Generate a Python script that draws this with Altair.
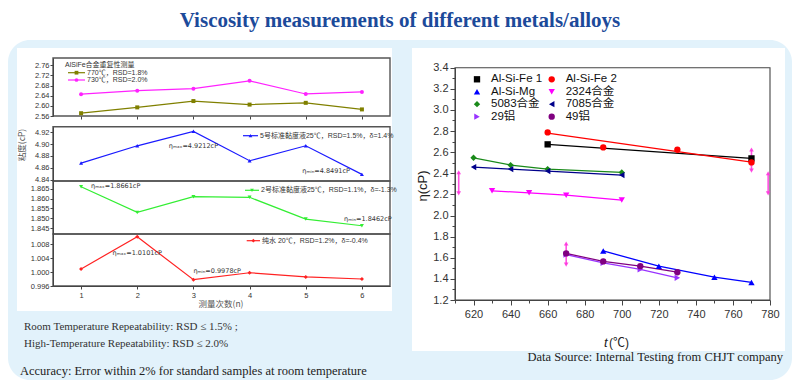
import altair as alt
import pandas as pd

W, H = 784, 372

# ---------------- left: repeatability (measurement number) ----------------
runs = [1, 2, 3, 4, 5, 6]
alsife_770 = [2.571, 2.594, 2.619, 2.605, 2.612, 2.586]
alsife_730 = [2.646, 2.660, 2.668, 2.699, 2.647, 2.655]
std5_25c = [4.868, 4.897, 4.9212, 4.872, 4.897, 4.8491]
std2_25c = [1.8661, 1.853, 1.861, 1.8607, 1.8496, 1.8462]
water_20c = [1.0009, 1.0101, 0.9978, 0.9998, 0.9986, 0.9980]

p1_ticks = [2.56, 2.60, 2.64, 2.68, 2.72, 2.76]
p2_ticks = [4.84, 4.86, 4.88, 4.90, 4.92]
p3_ticks = [1.845, 1.850, 1.855, 1.860, 1.865]
p4_ticks = [0.996, 1.000, 1.004, 1.008]

legend_p1_title = "AlSiFe合金重复性测量"
legend_770 = "770℃，RSD=1.8%"
legend_730 = "730℃，RSD=2.0%"
legend_std5 = "5号标准黏度液25℃，RSD=1.5%，δ=1.4%"
legend_std2 = "2号标准黏度液25℃，RSD=1.1%，δ=-1.3%"
legend_water = "纯水 20℃，RSD=1.2%，δ=-0.4%"

# ---------------- right: viscosity vs temperature ----------------
series_names = ["Al-Si-Fe 1", "Al-Si-Fe 2", "Al-Si-Mg", "2324合金",
                "5083合金", "7085合金", "29铝", "49铝"]
fe1_t = [660, 770]
fe1_v = [2.674, 2.541]
fe2_t = [660, 690, 730, 770]
fe2_v = [2.787, 2.645, 2.623, 2.503]
fe2_fit_t = [660, 770]
fe2_fit_v = [2.780, 2.505]
mg_t = [690, 720, 750, 770]
mg_v = [1.665, 1.520, 1.416, 1.366]
a2324_t = [630, 650, 670, 700]
a2324_v = [2.234, 2.215, 2.193, 2.146]
a5083_t = [620, 640, 660, 700]
a5083_v = [2.547, 2.478, 2.440, 2.408]
a7085_t = [620, 640, 660, 700]
a7085_v = [2.459, 2.440, 2.421, 2.383]
al29_t = [670, 690, 710, 730]
al29_v = [1.630, 1.552, 1.490, 1.410]
al49_t = [670, 690, 710, 730]
al49_v = [1.641, 1.565, 1.520, 1.463]
err_t = [612, 670, 770, 779]
err_v = [2.310, 1.635, 2.525, 2.305]
err_half = [0.10, 0.10, 0.10, 0.095]

temp_ticks = [620, 640, 660, 680, 700, 720, 740, 760, 780]
temp_minor = [610, 630, 650, 670, 690, 710, 730, 750, 770]
visc_ticks = [1.2, 1.4, 1.6, 1.8, 2.0, 2.2, 2.4, 2.6, 2.8, 3.0, 3.2, 3.4]
visc_minor = [1.3, 1.5, 1.7, 1.9, 2.1, 2.3, 2.5, 2.7, 2.9, 3.1, 3.3]

# ---------------- styles ----------------
series_colors = ["#000000", "#ff0000", "#0000ff", "#ff00ff",
                 "#1a8a1a", "#00008b", "#9933ff", "#800080"]
series_shapes = ["square", "circle", "triangle-up", "triangle-down",
                 "diamond", "triangle-left", "triangle-right", "circle"]
AX = "#444444"
SANS = "Liberation Sans, Noto Sans CJK SC"
CJK = "Noto Sans CJK SC"
SERIF = "Liberation Serif"


def txt(text, x, y, size=11, color="#222222", font=SERIF, align="left",
        weight="normal", angle=0, style="normal"):
    d = pd.DataFrame({"t": [text]})
    return alt.Chart(d).mark_text(
        align=align, baseline="middle", fontSize=size, color=color, font=font,
        fontWeight=weight, angle=angle, fontStyle=style
    ).encode(text="t:N", x=alt.value(x), y=alt.value(y))


def box(x1, y1, x2, y2, fill="#ffffff", fill_opacity=1.0, stroke="#ffffff",
        stroke_width=0.0, radius=0):
    return alt.Chart(pd.DataFrame({"k": [0]})).mark_rect(
        fill=fill, fillOpacity=fill_opacity, stroke=stroke,
        strokeWidth=stroke_width, cornerRadius=radius
    ).encode(x=alt.value(x1), x2=alt.value(x2), y=alt.value(y1), y2=alt.value(y2))


def leg_entry(x1, x2, y, color, shape, text):
    d = pd.DataFrame({"t": [text]})
    r = alt.Chart(d).mark_rule(color=color, strokeWidth=1.2).encode(
        x=alt.value(x1), x2=alt.value(x2), y=alt.value(y))
    p = alt.Chart(d).mark_point(shape=shape, filled=True, color=color, size=14,
                                opacity=1).encode(x=alt.value((x1 + x2) / 2), y=alt.value(y))
    t = alt.Chart(d).mark_text(align="left", baseline="middle", fontSize=7,
                               font=SANS, color="#333333").encode(
        x=alt.value(x2 + 2), y=alt.value(y), text="t:N")
    return [r, p, t]


def sym_entry(x, y, color, shape, text):
    d = pd.DataFrame({"t": [text]})
    p = alt.Chart(d).mark_point(shape=shape, filled=True, color=color, size=40,
                                opacity=1).encode(x=alt.value(x), y=alt.value(y))
    t = alt.Chart(d).mark_text(align="left", baseline="middle", fontSize=11.5,
                               font=SANS, color="#111111").encode(
        x=alt.value(x + 14), y=alt.value(y), text="t:N")
    return [p, t]


# ---------------- left panels ----------------
LX0, LX1 = 45, 382


def left_x_scale():
    return alt.Scale(domain=[0.5, 6.5], range=[LX0, LX1], nice=False, zero=False)


def y_axis_left(values, fmt):
    return alt.Axis(values=values, format=fmt, orient="left", offset=-LX0, title=None,
                    grid=False, domainColor=AX, tickColor=AX, tickSize=3,
                    labelFontSize=7.5, labelColor="#333333", labelFont="Liberation Sans",
                    labelPadding=1, labelOverlap=False, labelFlush=False, zindex=2)


def left_panel(series, ydom, yrng, yticks, yfmt, xaxis, notes):
    xs = left_x_scale()
    ys = alt.Scale(domain=ydom, range=yrng, nice=False, zero=False)
    yax = y_axis_left(yticks, yfmt)
    X = alt.X("run:Q", scale=xs, axis=xaxis)
    Y = alt.Y("v:Q", scale=ys, axis=yax)
    layers = []
    for vals, color, shape in series:
        d = pd.DataFrame({"run": runs, "v": vals})
        base = alt.Chart(d).encode(x=X, y=Y)
        layers.append(base.mark_line(color=color, strokeWidth=1.2))
        layers.append(base.mark_point(shape=shape, filled=True, color=color,
                                      size=16, opacity=1))
    for run, v, text, dx, dy, align in notes:
        d = pd.DataFrame({"run": [run], "v": [v], "t": [text]})
        layers.append(alt.Chart(d).mark_text(
            align=align, baseline="middle", dx=dx, dy=dy, fontSize=6.5,
            font="DejaVu Sans", color="#333333").encode(x=X, y=Y, text="t:N"))
    return alt.layer(*layers)


x_axis_p1 = alt.Axis(values=runs, orient="bottom", offset=-(H - 108), labels=False,
                     domain=False, tickColor=AX, tickSize=3, title=None, grid=False,
                     zindex=2)
x_axis_p4 = alt.Axis(values=runs, format="d", orient="bottom", offset=-(H - 278),
                     title=None, grid=False, domainColor=AX, tickColor=AX, tickSize=3,
                     labelFontSize=7.5, labelColor="#333333", labelFont="Liberation Sans",
                     labelPadding=2, labelFlush=False, labelOverlap=False, zindex=2)

i5x, i5n = std5_25c.index(max(std5_25c)), std5_25c.index(min(std5_25c))
i2x, i2n = std2_25c.index(max(std2_25c)), std2_25c.index(min(std2_25c))
iwx, iwn = water_20c.index(max(water_20c)), water_20c.index(min(water_20c))

panel1 = left_panel(
    [(alsife_770, "#808000", "square"), (alsife_730, "#ff22ff", "circle")],
    [2.56, 2.789], [108, 50], p1_ticks, ".2f", x_axis_p1, [])
panel2 = left_panel(
    [(std5_25c, "#1a1aff", "triangle-up")],
    [4.838, 4.929], [173, 118.7], p2_ticks, ".2f", None,
    [(runs[i5x], max(std5_25c), f"ηₘₐₓ={max(std5_25c):.4f}cP", 0, 15, "center"),
     (runs[i5n], min(std5_25c), f"ηₘᵢₙ={min(std5_25c):.4f}cP", -12, -3, "right")])
panel3 = left_panel(
    [(std2_25c, "#33ee33", "triangle-down")],
    [1.842, 1.869], [226, 173], p3_ticks, ".3f", None,
    [(runs[i2x], max(std2_25c), f"ηₘₐₓ={max(std2_25c):.4f}cP", 10, -1, "left"),
     (runs[i2n], min(std2_25c), f"ηₘᵢₙ={min(std2_25c):.4f}cP", 6, -7, "center")])
panel4 = left_panel(
    [(water_20c, "#ff2222", "diamond")],
    [0.996, 1.0109], [278, 226], p4_ticks, ".3f", x_axis_p4,
    [(runs[iwx], max(water_20c), f"ηₘₐₓ={max(water_20c):.4f}cP", 0, 16, "center"),
     (runs[iwn], min(water_20c), f"ηₘᵢₙ={min(water_20c):.4f}cP", 0, -9, "left")])

left_frames = [
    box(LX0, 50, LX1, 108, fill_opacity=0, stroke="#555555", stroke_width=1.4),
    box(LX0, 118.7, LX1, 173, fill_opacity=0, stroke="#555555", stroke_width=1.4),
    box(LX0, 173, LX1, 226, fill_opacity=0, stroke="#555555", stroke_width=1.4),
    box(LX0, 226, LX1, 278, fill_opacity=0, stroke="#555555", stroke_width=1.4),
]

left_legends = (
    [txt(legend_p1_title, 57, 57, size=7, font=SANS, color="#333333")]
    + leg_entry(60, 77, 64.7, "#808000", "square", legend_770)
    + leg_entry(60, 77, 72, "#ff22ff", "circle", legend_730)
    + leg_entry(235, 250, 127.7, "#1a1aff", "triangle-up", legend_std5)
    + leg_entry(237, 251, 182.3, "#33ee33", "triangle-down", legend_std2)
    + leg_entry(238.7, 252, 232.7, "#ff2222", "diamond", legend_water)
)

# ---------------- right chart ----------------
RX0, RX1 = 447, 762
RY0, RY1 = 292, 59.7


def rx_scale():
    return alt.Scale(domain=[610, 780], range=[RX0, RX1], nice=False, zero=False)


def ry_scale():
    return alt.Scale(domain=[1.2, 3.4], range=[RY0, RY1], nice=False, zero=False)


r_xaxis = alt.Axis(values=temp_ticks, format="d", orient="bottom", offset=-(H - RY0),
                   title=None, grid=False, domainColor=AX, tickColor=AX, tickSize=5,
                   labelFontSize=11, labelColor="#333333", labelFont="Liberation Sans",
                   labelPadding=3, labelFlush=False, labelOverlap=False, zindex=2)
r_yaxis = alt.Axis(values=visc_ticks, format=".1f", orient="left", offset=-RX0,
                   title=None, grid=False, domainColor=AX, tickColor=AX, tickSize=5,
                   labelFontSize=11, labelColor="#333333", labelFont="Liberation Sans",
                   labelPadding=2, labelOverlap=False, labelFlush=False, zindex=2)

point_sets = [(fe1_t, fe1_v), (fe2_t, fe2_v), (mg_t, mg_v), (a2324_t, a2324_v),
              (a5083_t, a5083_v), (a7085_t, a7085_v), (al29_t, al29_v), (al49_t, al49_v)]
line_sets = [(fe1_t, fe1_v), (fe2_fit_t, fe2_fit_v), (mg_t, mg_v), (a2324_t, a2324_v),
             (a5083_t, a5083_v), (a7085_t, a7085_v), (al29_t, al29_v), (al49_t, al49_v)]

pts = pd.concat([pd.DataFrame({"t": t, "v": v, "series": n})
                 for (t, v), n in zip(point_sets, series_names)], ignore_index=True)
lns = pd.concat([pd.DataFrame({"t": t, "v": v, "series": n})
                 for (t, v), n in zip(line_sets, series_names)], ignore_index=True)
errs = pd.DataFrame({"t": err_t, "v": err_v,
                     "lo": [v - h for v, h in zip(err_v, err_half)],
                     "hi": [v + h for v, h in zip(err_v, err_half)]})

RXS, RYS = rx_scale(), ry_scale()
RX = alt.X("t:Q", scale=RXS, axis=r_xaxis)
RY = alt.Y("v:Q", scale=RYS, axis=r_yaxis)

r_lines = alt.Chart(lns).mark_line(strokeWidth=1.3).encode(
    x=RX, y=RY, detail="series:N",
    stroke=alt.Stroke("series:N", scale=alt.Scale(domain=series_names, range=series_colors),
                      legend=None))

r_points = alt.Chart(pts).mark_point(filled=True, size=40, opacity=1).encode(
    x=RX, y=RY,
    color=alt.Color("series:N", scale=alt.Scale(domain=series_names, range=series_colors),
                    legend=None),
    shape=alt.Shape("series:N", scale=alt.Scale(domain=series_names, range=series_shapes),
                    legend=None))

ERR_COL = "#ff33dd"
r_err_rule = alt.Chart(errs).mark_rule(color=ERR_COL, strokeWidth=1.6, opacity=0.85).encode(
    x=RX, y=alt.Y("lo:Q", scale=RYS, axis=r_yaxis), y2="hi:Q")
r_err_top = alt.Chart(errs).mark_point(shape="triangle-up", filled=True, color=ERR_COL,
                                       size=22, opacity=0.85).encode(
    x=RX, y=alt.Y("hi:Q", scale=RYS, axis=r_yaxis))
r_err_bot = alt.Chart(errs).mark_point(shape="triangle-down", filled=True, color=ERR_COL,
                                       size=22, opacity=0.85).encode(
    x=RX, y=alt.Y("lo:Q", scale=RYS, axis=r_yaxis))

right_chart = alt.layer(r_lines, r_err_rule, r_err_top, r_err_bot, r_points)

minor_axes = alt.Chart(pd.DataFrame({"t": [700], "v": [2.0]})).mark_point(opacity=0).encode(
    x=alt.X("t:Q", scale=rx_scale(),
            axis=alt.Axis(values=temp_minor, orient="bottom", offset=-(H - RY0), labels=False,
                          domain=False, tickColor=AX, tickSize=3, title=None, grid=False,
                          zindex=2)),
    y=alt.Y("v:Q", scale=ry_scale(),
            axis=alt.Axis(values=visc_minor, orient="left", offset=-RX0, labels=False,
                          domain=False, tickColor=AX, tickSize=3, title=None, grid=False,
                          zindex=2)))

right_frame = box(RX0, RY1, RX1, RY0, fill_opacity=0, stroke="#444444", stroke_width=1.1)

# legend of the right chart: two columns, row-major
LEG_X, LEG_Y, LEG_COL_W, LEG_ROW_H = 469, 71.3, 74.7, 12.45
right_legend = []
for i, (name, col, shp) in enumerate(zip(series_names, series_colors, series_shapes)):
    right_legend += sym_entry(LEG_X + (i % 2) * LEG_COL_W, LEG_Y + (i // 2) * LEG_ROW_H,
                              col, shp, name)

# ---------------- page decoration & text ----------------
decor = [
    box(0, 32, W, H, fill="#e2f2fb", radius=22),
    box(9, 40, 384, 303, fill="#ffffff"),
    box(404, 40, 777, 343, fill="#ffffff"),
]

texts = [
    txt("Viscosity measurements of different metals/alloys", 392, 12.5, size=21,
        color="#1c4a9a", weight="bold", align="center"),
    txt("粘度(cP)", 14, 137, size=8.5, font=CJK, color="#555555", angle=270, align="center"),
    txt("测量次数(n)", 213, 296, size=8.5, font=CJK, color="#555555", align="center"),
    txt("η(cP)", 415, 178, size=13, font=SANS, color="#222222", angle=270, align="center"),
    txt("t", 596, 335, size=13, font=SANS, color="#222222", style="italic"),
    txt("(℃)", 601, 335, size=12, font=SANS, color="#222222"),
    txt("Room Temperature Repeatability: RSD ≤ 1.5% ;", 16, 319, size=11, color="#333333"),
    txt("High-Temperature Repeatability: RSD ≤ 2.0%", 16, 336, size=11, color="#333333"),
    txt("Accuracy: Error within 2% for standard samples at room temperature", 12, 363,
        size=12.5, color="#222222"),
    txt("Data Source: Internal Testing from CHJT company", 775, 349, size=12.5,
        color="#222222", align="right"),
]

chart = alt.layer(
    *decor,
    *left_frames,
    right_frame,
    panel1, panel2, panel3, panel4,
    minor_axes,
    right_chart,
    *left_legends,
    *right_legend,
    *texts,
).resolve_scale(
    x="independent", y="independent"
).properties(
    width=W, height=H, padding=0, autosize=alt.AutoSizeParams(type="none")
).configure_view(stroke=None)

chart.save("out.html", embed_options={"renderer": "svg", "actions": False})
